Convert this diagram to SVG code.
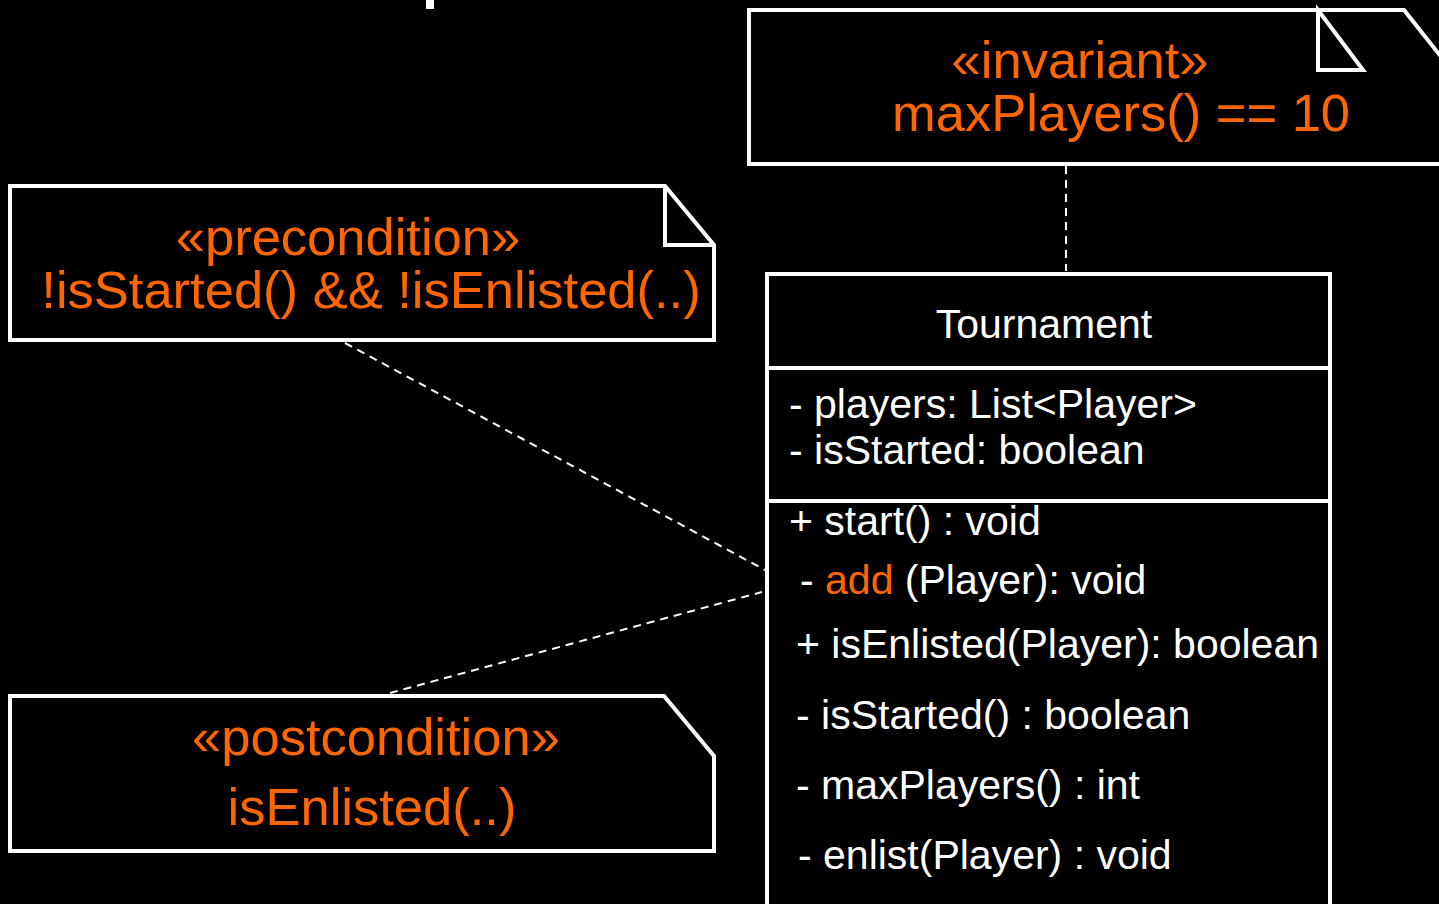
<svg xmlns="http://www.w3.org/2000/svg" width="1439" height="904" viewBox="0 0 1439 904">
<style>
.shape{fill:#000;stroke:#fff;stroke-width:4;stroke-linejoin:miter}
.fold{fill:none;stroke:#fff;stroke-width:4}
.conn{fill:none;stroke:#fff;stroke-width:2;stroke-dasharray:8,6}
.note{font-family:"Liberation Sans",Arial,sans-serif;font-size:52.5px;fill:#ff6600;text-anchor:middle}
.cls{font-family:"Liberation Sans",Arial,sans-serif;font-size:41px;fill:#fff}
.or{fill:#ff6600}
</style>
<rect x="0" y="0" width="1439" height="904" fill="#000"/>
<rect x="426" y="0" width="8" height="9" fill="#fff"/>
<g id="connectors">
<line class="conn" x1="1066" y1="166" x2="1066" y2="271"/>
<line class="conn" x1="345" y1="343" x2="765" y2="570"/>
<line class="conn" x1="390" y1="693" x2="762" y2="592"/>
</g>
<g id="invariant-note">
<path class="shape" d="M749,10 L1404,10 L1450,68 L1450,164 L749,164 Z"/>
<path class="fold" d="M1318,10 L1318,70 L1363,70 Z"/>
<text class="note" x="1120" y="78" dx="-40">«invariant»</text>
<text class="note" x="1121" y="131">maxPlayers() == 10</text>
</g>
<g id="precondition-note">
<path class="shape" d="M10,186 L665,186 L714,245 L714,340 L10,340 Z"/>
<path class="fold" d="M665,186 L665,245 L714,245"/>
<text class="note" x="348" y="255">«precondition»</text>
<text class="note" x="371" y="308">!isStarted() &amp;&amp; !isEnlisted(..)</text>
</g>
<g id="postcondition-note">
<path class="shape" d="M10,696 L664,696 L714,756 L714,851 L10,851 Z"/>
<text class="note" x="376" y="755">«postcondition»</text>
<text class="note" x="372" y="825">isEnlisted(..)</text>
</g>
<g id="tournament">
<rect class="shape" x="767" y="274" width="563" height="650"/>
<line class="fold" x1="767" y1="368" x2="1330" y2="368"/>
<line class="fold" x1="767" y1="501" x2="1330" y2="501"/>
<text class="cls" x="1044" y="338" text-anchor="middle">Tournament</text>
<text class="cls" x="789" y="418">- players: List&lt;Player&gt;</text>
<text class="cls" x="789" y="464">- isStarted: boolean</text>
<text class="cls" x="789" y="535">+ start() : void</text>
<text class="cls" x="800" y="594">- <tspan class="or">add</tspan> (Player): void</text>
<text class="cls" x="796" y="658">+ isEnlisted(Player): boolean</text>
<text class="cls" x="796" y="729">- isStarted() : boolean</text>
<text class="cls" x="796" y="799">- maxPlayers() : int</text>
<text class="cls" x="798" y="869">- enlist(Player) : void</text>
</g>
</svg>
